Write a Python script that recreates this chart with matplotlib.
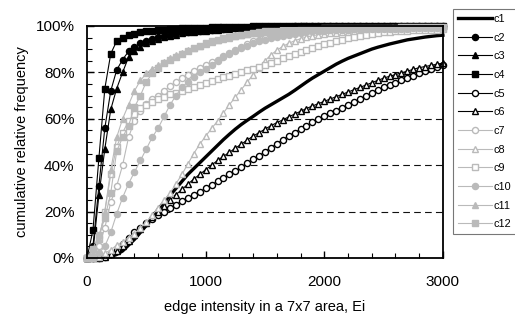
import numpy as np
import matplotlib
matplotlib.use('Agg')
import matplotlib.pyplot as plt
from matplotlib.ticker import MultipleLocator, FuncFormatter

plt.rcParams['font.family'] = ['Liberation Sans', 'DejaVu Sans']

# edge intensity (x), sampled every 50
x = np.arange(0, 3001, 50)

# cumulative relative frequency in %, one value per x
c1 = [0, 0, 0, 0, 0.5, 1.5, 3, 5.5, 8, 11, 14, 17.5, 21, 24, 27, 30, 33, 36, 38.5, 41,
      43.5, 46, 48.5, 51, 53.3, 55.5, 57.5, 59.3, 61, 62.8, 64.5, 66, 67.5, 69, 70.5, 72.2,
      74, 75.8, 77.5, 79, 80.5, 82, 83.5, 84.8, 86, 87, 88, 89, 90, 90.8, 91.5, 92.2, 92.8,
      93.4, 94, 94.4, 94.8, 95.2, 95.5, 95.8, 96]
c2 = [0, 5, 31, 56, 72, 81, 85.5, 89, 91, 92.5, 93.6, 94.5, 95.2, 95.8, 96.3, 96.8, 97.2,
      97.5, 97.8, 98, 98.2, 98.4, 98.6, 98.8, 98.9, 99, 99.1, 99.2, 99.3, 99.4, 99.5, 99.55,
      99.6, 99.65, 99.7, 99.75, 99.8, 99.85, 99.9, 99.93, 99.95, 100, 100, 100, 100, 100,
      100, 100, 100, 100, 100, 100, 100, 100, 100, 100, 100, 100, 100, 100, 100]
c3 = [0, 3, 27, 47, 64, 73, 80, 86.5, 89, 91, 92.5, 93.6, 94.5, 95.2, 95.8, 96.3, 96.8,
      97.2, 97.5, 97.8, 98, 98.2, 98.4, 98.6, 98.8, 98.9, 99, 99.1, 99.2, 99.3, 99.4, 99.5,
      99.55, 99.6, 99.65, 99.7, 99.75, 99.8, 99.85, 99.9, 99.93, 99.95, 100, 100, 100, 100,
      100, 100, 100, 100, 100, 100, 100, 100, 100, 100, 100, 100, 100, 100, 100]
c4 = [0, 12, 43, 73, 88, 93.5, 95, 96, 96.7, 97.2, 97.6, 97.9, 98.2, 98.4, 98.6, 98.8,
      98.9, 99, 99.1, 99.2, 99.3, 99.4, 99.45, 99.5, 99.55, 99.6, 99.65, 99.7, 99.75, 99.8,
      99.85, 99.9, 99.92, 99.94, 99.96, 99.98, 100, 100, 100, 100, 100, 100, 100, 100, 100,
      100, 100, 100, 100, 100, 100, 100, 100, 100, 100, 100, 100, 100, 100, 100, 100]
c5 = [0, 0, 0, 0.5, 1.5, 3.5, 6, 8.5, 11, 13, 15, 16.8, 18.5, 20, 21.5, 23, 24.5, 26, 27,
      28.5, 30, 31.5, 33, 34.5, 36, 37.5, 39, 40.8, 42.5, 44, 45.8, 47.5, 49.2, 51, 52.5, 54,
      55.5, 57, 58.5, 59.8, 61, 62.3, 63.5, 64.8, 66, 67.3, 68.5, 69.8, 71, 72.2, 73.5, 74.5,
      75.5, 76.5, 77.5, 78.5, 79.5, 80.4, 81.3, 82.2, 83]
c6 = [0, 0, 0, 0.5, 1.5, 3, 5, 7.5, 10, 12.5, 15, 17.5, 20, 22.5, 25, 27.3, 29.5, 31.8, 34,
      36, 38, 40, 42, 43.8, 45.5, 47.3, 49, 50.8, 52.5, 54, 55.5, 57, 58.3, 59.5, 60.8, 62,
      63.2, 64.4, 65.5, 66.5, 67.5, 68.5, 69.5, 70.5, 71.5, 72.5, 73.5, 74.5, 75.5, 76.5,
      77.5, 78.3, 79, 79.8, 80.5, 81.3, 82, 82.5, 83, 83.5, 84]
c7 = [0, 1, 5, 13, 24, 31, 40, 52, 59, 63.5, 66.5, 68.5, 70, 72, 74, 75.8, 77.5, 79, 80.5,
      81.8, 83, 84.3, 85.5, 87, 88.5, 89.8, 91, 92.3, 93.3, 94, 94.8, 95.4, 96, 96.4, 96.8,
      97.1, 97.4, 97.6, 97.8, 98, 98.1, 98.2, 98.3, 98.4, 98.5, 98.55, 98.6, 98.65, 98.7,
      98.75, 98.8, 98.82, 98.85, 98.87, 98.9, 98.92, 98.94, 98.96, 98.97, 98.98, 99]
c8 = [0, 0, 0.5, 2, 3.5, 5.5, 7, 8.8, 10.5, 13, 15.5, 18.5, 21.5, 24.8, 28, 32, 36, 40.5,
      45, 49, 52.5, 55.8, 59, 62.5, 66, 69.3, 72.5, 75.8, 79, 82, 85, 87.5, 89.5, 91.2, 92.5,
      93.6, 94.5, 95.2, 95.8, 96.2, 96.6, 96.9, 97.1, 97.3, 97.5, 97.6, 97.7, 97.8, 98, 98.1,
      98.2, 98.3, 98.4, 98.5, 98.6, 98.65, 98.7, 98.8, 98.85, 98.9, 99]
c9 = [0, 2, 8, 20, 36, 48, 54, 59, 62, 64.5, 66, 67.3, 68.5, 69.5, 70.5, 71.3, 72, 72.8,
      73.5, 74.5, 75.5, 76.3, 77, 77.8, 78.5, 79.3, 80, 80.8, 81.5, 82.3, 83, 84, 85, 86, 87,
      87.9, 88.8, 89.7, 90.5, 91.3, 92, 92.8, 93.5, 94.1, 94.6, 95.1, 95.5, 96, 96.5, 96.9,
      97.2, 97.5, 97.7, 97.9, 98, 98.1, 98.2, 98.3, 98.4, 98.45, 98.5]
c10 = [0, 0.5, 2, 5, 11, 19, 26, 32, 37, 42, 47, 52, 56, 61, 66, 70, 73.5, 76, 78, 80,
       81.5, 83.3, 85, 86.5, 88, 89.3, 90.5, 91.5, 92.5, 93.3, 94, 94.6, 95.2, 95.7, 96.2,
       96.6, 97, 97.3, 97.6, 97.8, 98, 98.1, 98.2, 98.3, 98.4, 98.5, 98.55, 98.6, 98.65,
       98.7, 98.75, 98.8, 98.82, 98.85, 98.87, 98.9, 98.92, 98.94, 98.96, 98.98, 99]
c11 = [0, 2, 8, 20, 38, 52, 60, 66, 72, 76.5, 79.5, 81.5, 83, 84.5, 86, 87.3, 88.5, 89.5,
       90.5, 91.4, 92.3, 93.1, 93.8, 94.4, 95, 95.5, 96, 96.4, 96.8, 97.1, 97.4, 97.6, 97.8,
       98, 98.2, 98.3, 98.4, 98.5, 98.6, 98.7, 98.8, 98.85, 98.9, 98.95, 99, 99.05, 99.1,
       99.12, 99.15, 99.18, 99.2, 99.22, 99.25, 99.27, 99.3, 99.32, 99.34, 99.36, 99.37,
       99.38, 99.4]
c12 = [0, 4, 10, 17, 28, 46, 52, 57, 65, 70, 76, 79.5, 82, 84, 85.5, 86.8, 88, 89.3, 90.5,
       91.5, 92.5, 93.3, 94, 94.6, 95.2, 95.7, 96.2, 96.6, 97, 97.3, 97.6, 97.8, 98, 98.15,
       98.3, 98.4, 98.5, 98.6, 98.7, 98.8, 98.9, 98.95, 99, 99.05, 99.1, 99.12, 99.15, 99.17,
       99.2, 99.22, 99.25, 99.27, 99.3, 99.32, 99.34, 99.36, 99.37, 99.38, 99.39, 99.4, 99.4]

gray = '#bababa'
fig = plt.figure(figsize=(5.15, 3.2), dpi=100)
ax = fig.add_axes([0.169, 0.194, 0.691, 0.725])

# gridlines
for g in [20, 40, 60, 80]:
    ax.axhline(g, color='#111111', lw=0.8, dashes=(6, 3.8), zorder=0.5)

kw = dict(lw=0.8, ms=4.4, mew=1.0, clip_on=False)
ax.plot(x, c1, color='black', lw=2.4, label='c1', clip_on=False)
ax.plot(x, c2, color='black', marker='o', label='c2', **kw)
ax.plot(x, c3, color='black', marker='^', label='c3', **kw)
ax.plot(x, c4, color='black', marker='s', label='c4', **kw)
ax.plot(x, c5, color='black', marker='o', mfc='white', label='c5', **kw)
ax.plot(x, c6, color='black', marker='^', mfc='white', label='c6', **kw)
ax.plot(x, c7, color=gray, marker='o', mfc='white', label='c7', **kw)
ax.plot(x, c8, color=gray, marker='^', mfc='white', label='c8', **kw)
ax.plot(x, c9, color=gray, marker='s', mfc='white', label='c9', **kw)
ax.plot(x, c10, color=gray, marker='o', label='c10', **kw)
ax.plot(x, c11, color=gray, marker='^', label='c11', **kw)
ax.plot(x, c12, color=gray, marker='s', label='c12', **kw)

ax.set_xlim(0, 3000)
ax.set_ylim(0, 100)
ax.xaxis.set_major_locator(MultipleLocator(1000))
ax.xaxis.set_minor_locator(MultipleLocator(200))
ax.yaxis.set_major_locator(MultipleLocator(20))
ax.yaxis.set_minor_locator(MultipleLocator(5))
ax.yaxis.set_major_formatter(FuncFormatter(lambda v, p: '%d%%' % v))
ax.tick_params(axis='both', which='both', direction='in', labelsize=11)
ax.tick_params(axis='both', which='major', length=5, width=1)
ax.tick_params(axis='both', which='minor', length=3.5, width=0.8)
ax.tick_params(axis='x', pad=12)
ax.tick_params(axis='y', pad=9)
for s in ax.spines.values():
    s.set_linewidth(1.3)

ax.set_xlabel('edge intensity in a 7x7 area, Ei', fontsize=10.5, labelpad=8)
ax.set_ylabel('cumulative relative frequency', fontsize=10.5, labelpad=5)

leg = fig.legend(loc='upper left', bbox_to_anchor=(0.879, 0.972), fontsize=7.8,
                 frameon=True, fancybox=False, edgecolor='#555555', handlelength=3.2,
                 handletextpad=0.1, borderpad=0.45, labelspacing=0.8, borderaxespad=0)
leg.get_frame().set_linewidth(0.8)

fig.savefig('out.png', dpi=100)
